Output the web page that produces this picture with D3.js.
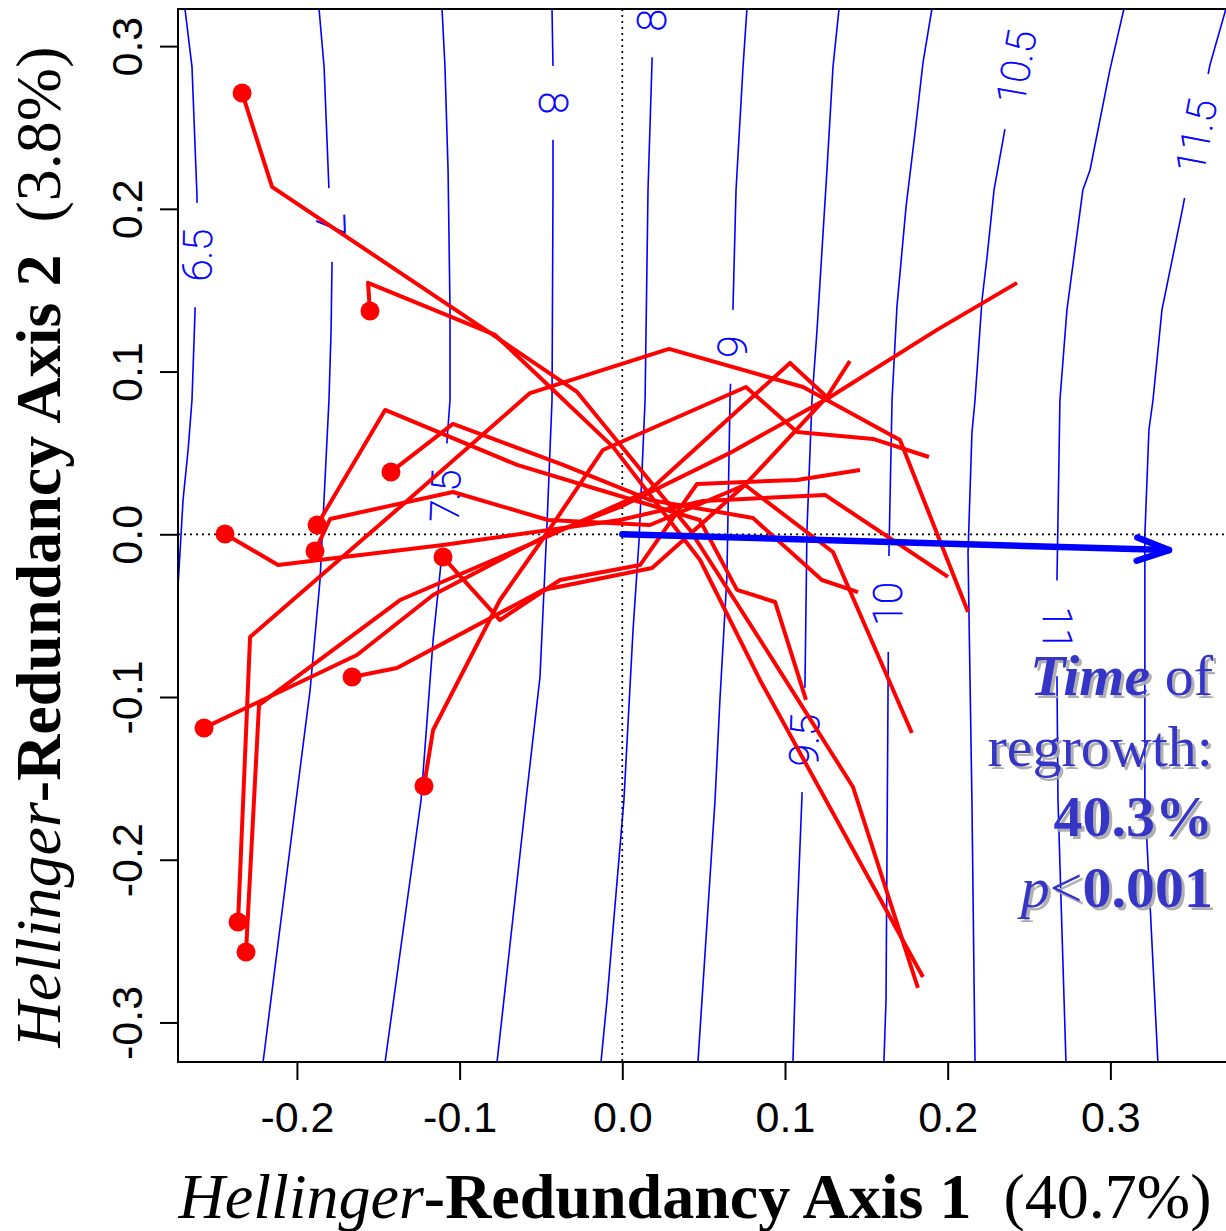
<!DOCTYPE html>
<html>
<head>
<meta charset="utf-8">
<script src="https://cdn.jsdelivr.net/npm/d3@7/dist/d3.min.js"></script>
<style>
  body { margin: 0; background: #fff; }
  svg { display: block; }
</style>
</head>
<body>
<script>
// contour levels of the fitted "time of regrowth" surface
var levels = [6.5, 7, 7.5, 8, 8.5, 9, 9.5, 10, 10.5, 11, 11.5];

// contour paths, one per level, [axis1, axis2]
var contourLines = [
  [[-0.2688,0.3228],[-0.2645,0.2872],[-0.2614,0.2073],[-0.2626,0.1379],[-0.2645,0.0825],[-0.2669,0.0518],[-0.2700,0.0211],[-0.2731,-0.0324],[-0.2780,-0.0711]],
  [[-0.1864,0.3228],[-0.1833,0.2872],[-0.1803,0.2116],[-0.1784,0.1686],[-0.1790,0.1256],[-0.1803,0.0825],[-0.1858,-0.0281],[-0.1919,-0.0957],[-0.2005,-0.1633],[-0.2208,-0.3243]],
  [[-0.1108,0.3228],[-0.1090,0.2872],[-0.1071,0.2239],[-0.1059,0.1379],[-0.1059,0.0825],[-0.1077,0.0580],[-0.1108,-0.0115],[-0.1163,-0.0650],[-0.1237,-0.1633],[-0.1458,-0.3243]],
  [[-0.0432,0.3228],[-0.0426,0.2872],[-0.0426,0.2116],[-0.0432,0.0825],[-0.0463,0.0057],[-0.0506,-0.0877],[-0.0592,-0.1633],[-0.0770,-0.3243]],
  [[0.0189,0.3228],[0.0183,0.2915],[0.0158,0.2116],[0.0140,0.0825],[0.0103,-0.0035],[0.0066,-0.0588],[0.0010,-0.1633],[-0.0094,-0.2862],[-0.0131,-0.3243]],
  [[0.0766,0.3228],[0.0742,0.2872],[0.0699,0.2116],[0.0680,0.1379],[0.0662,0.0825],[0.0643,-0.0262],[0.0600,-0.1018],[0.0570,-0.1633],[0.0465,-0.3243]],
  [[0.1332,0.3228],[0.1295,0.2872],[0.1258,0.2239],[0.1197,0.1256],[0.1166,0.0825],[0.1135,0.0026],[0.1123,-0.0914],[0.1104,-0.1621],[0.1074,-0.2370],[0.1049,-0.3243]],
  [[0.1903,0.3228],[0.1848,0.2897],[0.1799,0.2466],[0.1744,0.2012],[0.1688,0.1397],[0.1658,0.0825],[0.1639,-0.0115],[0.1633,-0.1018],[0.1621,-0.2862],[0.1608,-0.3243]],
  [[0.2481,0.3228],[0.2420,0.2872],[0.2340,0.2424],[0.2285,0.2116],[0.2242,0.1704],[0.2211,0.1440],[0.2168,0.0825],[0.2149,0.0623],[0.2125,-0.0115],[0.2137,-0.0877],[0.2149,-0.1633],[0.2168,-0.3243]],
  [[0.3083,0.3228],[0.2997,0.2854],[0.2875,0.2239],[0.2831,0.2116],[0.2733,0.1379],[0.2690,0.0825],[0.2672,-0.0262],[0.2672,-0.0914],[0.2678,-0.1633],[0.2727,-0.3243]],
  [[0.3710,0.3228],[0.3612,0.2884],[0.3526,0.2454],[0.3446,0.2012],[0.3317,0.1379],[0.3262,0.0825],[0.3237,0.0641],[0.3212,-0.0004],[0.3212,-0.1633],[0.3292,-0.3243]]
];

// where each level is labelled on its line: [axis1, axis2, angle]
var contourLabelAt = [
  [-0.2614, 0.1716, -89],
  [-0.1790, 0.1901, 88],
  [-0.1090, 0.0237, -87.5],
  [-0.0426, 0.2651, 90],
  [ 0.0183, 0.3252, -90],
  [ 0.0674, 0.1152, -88],
  [ 0.1117, -0.1264, -88],
  [ 0.1633, -0.0428, -90],
  [ 0.2420, 0.2872, -80],
  [ 0.2672, -0.0578, 90],
  [ 0.3526, 0.2448, -79]
];

// site trajectories over time, first point = earliest survey (dot)
var trajectories = [
  [[-0.2337,0.2712],[-0.2153,0.2135],[-0.0795,0.1225],[-0.0278,0.0875],[0.0416,0.0026],[0.0926,-0.0773],[0.1418,-0.1553],[0.1817,-0.2788]],
  [[-0.1551,0.1372],[-0.1563,0.1545],[-0.0782,0.1225],[-0.0444,0.0905],[-0.0057,0.0537],[0.0478,-0.0158],[0.0846,-0.0895],[0.1848,-0.2721]],
  [[-0.1422,0.0383],[-0.1041,0.0678],[-0.0364,0.0426],[0.0170,0.0211],[0.0803,0.0100],[0.1227,-0.0281],[0.1449,-0.0355]],
  [[-0.2442,0.0002],[-0.2116,-0.0189],[-0.1102,-0.0066],[-0.0014,0.0088],[0.0496,0.0205],[0.1246,0.0242],[0.2002,-0.0262]],
  [[-0.1876,0.0057],[-0.1458,0.0764],[-0.0647,0.0426],[-0.0137,0.0272],[0.0476,0.0088],[0.0705,-0.0342],[0.0939,-0.0416],[0.1129,-0.1018]],
  [[-0.1889,-0.0103],[-0.1796,0.0094],[-0.1041,0.0260],[-0.0457,0.0088],[0.0170,0.0057],[0.0754,0.0303],[0.1295,-0.0109],[0.1504,-0.0588],[0.1780,-0.1221]],
  [[-0.1102,-0.0140],[-0.0752,-0.0527],[-0.0383,-0.0281],[0.0109,-0.0189],[0.0459,0.0309],[0.1074,0.0334],[0.1461,0.0395]],
  [[-0.2571,-0.1190],[-0.1631,-0.0742],[-0.1163,-0.0373],[-0.0457,-0.0004],[-0.0014,0.0168],[0.0662,0.0500],[0.1277,0.0844],[0.1934,0.1256],[0.2426,0.1545]],
  [[-0.1661,-0.0877],[-0.1385,-0.0822],[-0.0487,-0.0342],[0.0183,-0.0207],[0.0754,0.0303],[0.1258,0.0844],[0.1399,0.1065]],
  [[-0.1219,-0.1547],[-0.1163,-0.1203],[-0.0752,-0.0404],[-0.0463,0.0008],[-0.0119,0.0518],[0.0760,0.0905],[0.1074,0.0629],[0.1541,0.0586],[0.1885,0.0475]],
  [[-0.2362,-0.2383],[-0.2288,-0.0631],[-0.1366,0.0168],[-0.0567,0.0868],[0.0287,0.1139],[0.1111,0.0905],[0.1707,0.0580],[0.2125,-0.0478]],
  [[-0.2313,-0.2567],[-0.2233,-0.1049],[-0.1366,-0.0404],[-0.0506,-0.0035],[0.0170,0.0272],[0.1031,0.1053],[0.1277,0.0825]]
];

// fitted vector of time of regrowth
var arrowEnd = [0.336, -0.0097];

var xTicks = [-0.2, -0.1, 0.0, 0.1, 0.2, 0.3];
var xTickLabels = ["-0.2", "-0.1", "0.0", "0.1", "0.2", "0.3"];
var yTicks = [-0.3, -0.2, -0.1, 0.0, 0.1, 0.2, 0.3];
var yTickLabels = ["-0.3", "-0.2", "-0.1", "0.0", "0.1", "0.2", "0.3"];

var xTitle = [["Hellinger", "i"], ["-Redundancy Axis 1", "b"], ["\u00a0\u00a0(40.7%)", "n"]];
var yTitle = [["Hellinger", "i"], ["-Redundancy Axis 2", "b"], ["\u00a0\u00a0(3.8%)", "n"]];
var statLines = [
  [["Time", "bi"], [" of", "n"]],
  [["regrowth:", "n"]],
  [["40.3%", "b"]],
  [["p", "i"], ["<", "n"], ["0.001", "b"]]
];

var width = 1226, height = 1231;
var serif = "'Liberation Serif', 'Times New Roman', serif";
var sans = "'Liberation Sans', Arial, Helvetica, sans-serif";

var x = d3.scaleLinear().domain([-0.2731, 0.3723]).range([178, 1228]);
var y = d3.scaleLinear().domain([-0.3243, 0.3228]).range([1062, 9]);

var svg = d3.select("body").append("svg")
  .attr("width", width)
  .attr("height", height);

var defs = svg.append("defs");
defs.append("clipPath").attr("id", "plotClip")
  .append("rect")
  .attr("x", x.range()[0])
  .attr("y", y.range()[1])
  .attr("width", x.range()[1] - x.range()[0])
  .attr("height", y.range()[0] - y.range()[1]);

defs.append("filter").attr("id", "shadow")
  .attr("x", "-5%").attr("y", "-20%").attr("width", "115%").attr("height", "150%")
  .append("feDropShadow")
  .attr("dx", 3).attr("dy", 3)
  .attr("stdDeviation", 0.6)
  .attr("flood-color", "#a8a8a8")
  .attr("flood-opacity", 0.9);

var plot = svg.append("g").attr("clip-path", "url(#plotClip)");

// contour lines (filled in after labels are measured, for the gaps)
var gContours = plot.append("g");
var gLabels = plot.append("g");

var labels = gLabels.selectAll("text")
  .data(levels)
  .enter()
  .append("text")
  .attr("transform", function (d, i) {
    var p = contourLabelAt[i];
    return "translate(" + x(p[0]) + "," + y(p[1]) + ") rotate(" + p[2] + ")";
  })
  .attr("text-anchor", "middle")
  .attr("dy", "0.36em")
  .style("font-family", "Roboto, 'DejaVu Sans', sans-serif")
  .style("font-weight", 100)
  .style("font-size", "40px")
  .attr("fill", "#0000ff")
  .attr("stroke", "#0000ff")
  .attr("stroke-width", 0.8)
  .text(function (d) { return d; });

var mask = defs.append("mask").attr("id", "gapMask")
  .attr("maskUnits", "userSpaceOnUse")
  .attr("x", 0).attr("y", 0).attr("width", width).attr("height", height);
mask.append("rect").attr("width", width).attr("height", height).attr("fill", "#fff");
labels.each(function (d, i) {
  var half = this.getComputedTextLength() / 2 + 26;
  var p = contourLabelAt[i];
  mask.append("rect")
    .attr("x", -half).attr("y", -18)
    .attr("width", 2 * half).attr("height", 36)
    .attr("fill", "#000")
    .attr("transform", "translate(" + x(p[0]) + "," + y(p[1]) + ") rotate(" + p[2] + ")");
});

var line = d3.line()
  .x(function (d) { return x(d[0]); })
  .y(function (d) { return y(d[1]); });

gContours.attr("mask", "url(#gapMask)")
  .selectAll("path")
  .data(contourLines)
  .enter()
  .append("path")
  .attr("d", line)
  .attr("fill", "none")
  .attr("stroke", "#0000ff")
  .attr("stroke-width", 1.6);

// dotted zero lines
plot.append("line")
  .attr("x1", x(0)).attr("x2", x(0))
  .attr("y1", y.range()[1]).attr("y2", y.range()[0])
  .attr("stroke", "#000").attr("stroke-width", 1.7)
  .attr("stroke-dasharray", "2,4");
plot.append("line")
  .attr("x1", x.range()[0]).attr("x2", x.range()[1])
  .attr("y1", y(0)).attr("y2", y(0))
  .attr("stroke", "#000").attr("stroke-width", 1.7)
  .attr("stroke-dasharray", "2,4");

// trajectories
plot.append("g")
  .selectAll("path")
  .data(trajectories)
  .enter()
  .append("path")
  .attr("d", line)
  .attr("fill", "none")
  .attr("stroke", "#ff0000")
  .attr("stroke-width", 4)
  .attr("stroke-linejoin", "round");

plot.append("g")
  .selectAll("circle")
  .data(trajectories)
  .enter()
  .append("circle")
  .attr("cx", function (d) { return x(d[0][0]); })
  .attr("cy", function (d) { return y(d[0][1]); })
  .attr("r", 9.5)
  .attr("fill", "#ff0000");

// arrow
var ax0 = x(0), ay0 = y(0), ax1 = x(arrowEnd[0]), ay1 = y(arrowEnd[1]);
var ang = Math.atan2(ay1 - ay0, ax1 - ax0);
var headLen = 34, headAng = 20 * Math.PI / 180;
var arrow = svg.append("g")
  .attr("stroke", "#0000ff")
  .attr("stroke-width", 6.5)
  .attr("stroke-linecap", "round")
  .attr("fill", "none");
arrow.append("line")
  .attr("x1", ax0).attr("y1", ay0)
  .attr("x2", ax1).attr("y2", ay1);
arrow.append("path")
  .attr("stroke-linejoin", "round")
  .attr("d", "M" + (ax1 - headLen * Math.cos(ang - headAng)) + "," + (ay1 - headLen * Math.sin(ang - headAng)) +
    "L" + ax1 + "," + ay1 +
    "L" + (ax1 - headLen * Math.cos(ang + headAng)) + "," + (ay1 - headLen * Math.sin(ang + headAng)));

// frame
svg.append("rect")
  .attr("x", x.range()[0]).attr("y", y.range()[1])
  .attr("width", x.range()[1] - x.range()[0])
  .attr("height", y.range()[0] - y.range()[1])
  .attr("fill", "none")
  .attr("stroke", "#000")
  .attr("stroke-width", 2);

// axes
var xAxis = svg.append("g")
  .attr("transform", "translate(0," + y.range()[0] + ")")
  .call(d3.axisBottom(x)
    .tickValues(xTicks)
    .tickFormat(function (d, i) { return xTickLabels[i]; })
    .tickSize(18)
    .tickPadding(21));

var yAxis = svg.append("g")
  .attr("transform", "translate(" + x.range()[0] + ",0)")
  .call(d3.axisLeft(y)
    .tickValues(yTicks)
    .tickFormat(function (d, i) { return yTickLabels[i]; })
    .tickSize(18));

yAxis.selectAll(".tick text")
  .attr("x", 0)
  .attr("dy", 0)
  .attr("text-anchor", "middle")
  .attr("transform", "translate(-36,0) rotate(-90)");

[xAxis, yAxis].forEach(function (g) {
  g.select(".domain").remove();
  g.selectAll(".tick line").attr("stroke", "#000").attr("stroke-width", 2);
  g.selectAll(".tick text")
    .attr("fill", "#000")
    .style("font-family", sans)
    .style("font-size", "43px");
});

function styledText(sel, parts) {
  parts.forEach(function (p) {
    sel.append("tspan")
      .style("font-style", p[1].indexOf("i") >= 0 ? "italic" : "normal")
      .style("font-weight", p[1].indexOf("b") >= 0 ? "bold" : "normal")
      .text(p[0]);
  });
}

// axis titles
var xt = svg.append("text")
  .attr("x", 695).attr("y", 1218)
  .attr("text-anchor", "middle")
  .style("font-family", serif)
  .style("font-size", "64px");
styledText(xt, xTitle);

var yt = svg.append("text")
  .attr("transform", "translate(60,547) rotate(-90)")
  .attr("text-anchor", "middle")
  .style("font-family", serif)
  .style("font-size", "64px");
styledText(yt, yTitle);

// fit statistics, with a soft drop shadow
var stats = svg.append("g").attr("filter", "url(#shadow)");
statLines.forEach(function (parts, i) {
  var t = stats.append("text")
    .attr("x", 1213)
    .attr("y", 695 + i * 70.7)
    .attr("text-anchor", "end")
    .attr("fill", "#3434c8")
    .style("font-family", serif)
    .style("font-size", "58px");
  styledText(t, parts);
});
</script>
</body>
</html>
